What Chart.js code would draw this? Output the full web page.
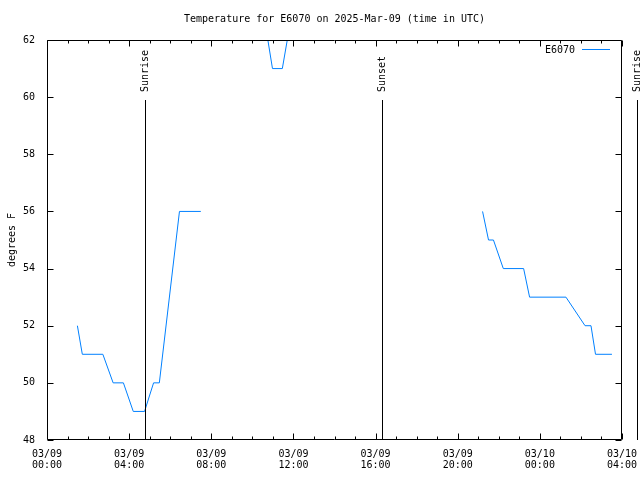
<!DOCTYPE html>
<html>
<head>
<meta charset="utf-8">
<script src="https://cdn.jsdelivr.net/npm/chart.js@4/dist/chart.umd.min.js"></script>
<style>
  body { margin: 0; background: #fff; }
  #wrap { width: 640px; height: 480px; }
</style>
</head>
<body>
<div id="wrap"><canvas id="tempChart" width="640" height="480"></canvas></div>
<script>
// hours since 03/09 00:00 UTC, null temp = gap in the record
const hours = [1.48, 1.72, 2.72, 3.22, 3.72, 4.20, 4.75, 5.19, 5.47, 6.45, 7.49,
  9.0,
  10.53, 10.98, 11.46, 11.94,
  16.0,
  21.21, 21.50, 21.74, 22.22, 23.21, 23.50, 25.27, 26.20, 26.49, 26.71, 27.51];
const tempF = [52, 51, 51, 50, 50, 49, 49, 50, 50, 56, 56,
  null,
  63, 61, 61, 63,
  null,
  56, 55, 55, 54, 54, 53, 53, 52, 52, 51, 51];

const tickDates = ['03/09', '03/09', '03/09', '03/09', '03/09', '03/09', '03/10', '03/10'];
const tickTimes = ['00:00', '04:00', '08:00', '12:00', '16:00', '20:00', '00:00', '04:00'];

const sunHours = [4.78, 16.33, 28.75];
const sunLabels = ['Sunrise', 'Sunset', 'Sunrise'];

const stationName = 'E6070';
const lineColor = 'rgb(0,128,255)';
const monoFont = '10px "DejaVu Sans Mono"';

// gnuplot look: border, inward ticks, sun markers, legend, title
const gnuplotFrame = {
  id: 'gnuplotFrame',
  afterDraw(chart) {
    const { ctx, chartArea: a, scales: { x, y } } = chart;
    const L = Math.round(a.left) + 0.5, R = Math.round(a.right) - 0.5;
    const T = Math.round(a.top) + 0.5, B = Math.round(a.bottom) - 0.5;
    ctx.save();
    ctx.strokeStyle = '#000';
    ctx.lineWidth = 1;
    ctx.beginPath();
    ctx.rect(L, T, R - L, B - T);
    for (let h = x.min; h <= x.max; h++) {
      const px = Math.round(x.getPixelForValue(h)) + 0.5;
      const len = h % 4 === 0 ? 6 : 3;
      ctx.moveTo(px, B); ctx.lineTo(px, B - len);
      ctx.moveTo(px, T); ctx.lineTo(px, T + len);
    }
    for (let v = y.min; v <= y.max; v += 2) {
      const py = Math.round(y.getPixelForValue(v)) + 0.5;
      ctx.moveTo(L, py); ctx.lineTo(L + 6, py);
      ctx.moveTo(R, py); ctx.lineTo(R - 6, py);
    }
    ctx.stroke();

    ctx.font = monoFont;
    ctx.fillStyle = '#000';
    const h = a.bottom - a.top;
    sunHours.forEach((sh, i) => {
      const px = Math.round(x.getPixelForValue(sh)) + 0.5;
      ctx.beginPath();
      ctx.moveTo(px, a.bottom);
      ctx.lineTo(px, a.bottom - 0.85 * h);
      ctx.stroke();
      ctx.save();
      ctx.translate(px, a.bottom - 0.87 * h);
      ctx.rotate(-Math.PI / 2);
      ctx.textAlign = 'left';
      ctx.textBaseline = 'middle';
      ctx.fillText(sunLabels[i], 0, 0);
      ctx.restore();
    });

    // legend
    ctx.textAlign = 'right';
    ctx.textBaseline = 'middle';
    ctx.fillText(stationName, a.right - 47, a.top + 10);
    ctx.strokeStyle = lineColor;
    ctx.beginPath();
    ctx.moveTo(a.right - 40, a.top + 9.5);
    ctx.lineTo(a.right - 12, a.top + 9.5);
    ctx.stroke();

    // title
    ctx.fillStyle = '#000';
    ctx.textAlign = 'center';
    ctx.fillText('Temperature for ' + stationName + ' on 2025-Mar-09 (time in UTC)', (a.left + a.right) / 2, 19);
    ctx.restore();
  }
};

new Chart(document.getElementById('tempChart').getContext('2d'), {
  type: 'line',
  data: {
    datasets: [{
      label: stationName,
      data: hours.map((h, i) => ({ x: h, y: tempF[i] })),
      borderColor: lineColor,
      borderWidth: 1,
      pointRadius: 0,
      tension: 0,
      spanGaps: false
    }]
  },
  options: {
    responsive: false,
    animation: false,
    layout: { padding: { top: 40, right: 18, left: 0, bottom: 0 } },
    plugins: {
      legend: { display: false },
      title: { display: false },
      tooltip: { enabled: false }
    },
    scales: {
      x: {
        type: 'linear',
        min: 0,
        max: 28,
        grid: { display: false, drawTicks: false },
        border: { display: false },
        afterFit: (s) => { s.height = 40; s.paddingLeft = 0; s.paddingRight = 0; },
        ticks: {
          stepSize: 4,
          autoSkip: false,
          maxRotation: 0,
          padding: 9,
          color: '#000',
          font: { family: 'DejaVu Sans Mono', size: 10, lineHeight: 1.1 },
          callback: (v) => [tickDates[v / 4], tickTimes[v / 4]]
        }
      },
      y: {
        min: 48,
        max: 62,
        grid: { display: false, drawTicks: false },
        border: { display: false },
        afterFit: (s) => { s.width = 47; },
        ticks: {
          stepSize: 2,
          padding: 12,
          color: '#000',
          font: { family: 'DejaVu Sans Mono', size: 10 }
        },
        title: {
          display: true,
          text: 'degrees F',
          color: '#000',
          padding: { top: 6, bottom: 0 },
          font: { family: 'DejaVu Sans Mono', size: 10 }
        }
      }
    }
  },
  plugins: [gnuplotFrame]
});
</script>
</body>
</html>
